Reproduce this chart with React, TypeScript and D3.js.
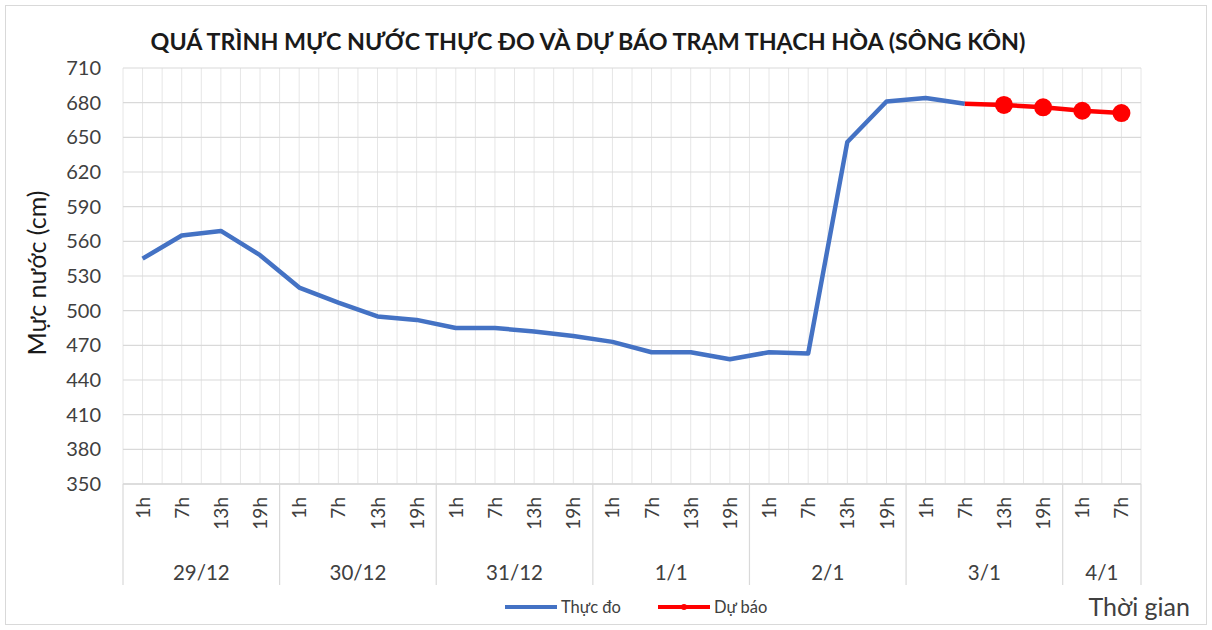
import { useEffect, useRef } from "react";
import * as d3 from "d3";

// Nhãn ngày (cấp 2) và giờ (cấp 1) của trục hoành
const NGAY = ["29/12", "30/12", "31/12", "1/1", "2/1", "3/1", "4/1"];
const GIO_THEO_NGAY = [
  ["1h", "7h", "13h", "19h"],
  ["1h", "7h", "13h", "19h"],
  ["1h", "7h", "13h", "19h"],
  ["1h", "7h", "13h", "19h"],
  ["1h", "7h", "13h", "19h"],
  ["1h", "7h", "13h", "19h"],
  ["1h", "7h"],
];

// Mực nước thực đo (cm), từ 1h 29/12 đến 7h 3/1
const THUC_DO = [
  545, 565, 569, 548,
  520, 507, 495, 492,
  485, 485, 482, 478,
  473, 464, 464, 458,
  464, 463, 646, 681,
  684, 679,
];

// Mực nước dự báo (cm), từ 7h 3/1 đến 7h 4/1
const DU_BAO = [679, 678, 676, 673, 671];
const DU_BAO_BAT_DAU = 21;

const Y_TICKS = [350, 380, 410, 440, 470, 500, 530, 560, 590, 620, 650, 680, 710];

const MAU_THUC_DO = "#4472c4";
const MAU_DU_BAO = "#ff0000";
const FONT = "Lato, Carlito, sans-serif";

const App = () => {
  const svgRef = useRef<SVGSVGElement>(null);
  const width = 1212;
  const height = 630;

  useEffect(() => {
    if (!svgRef.current) return;
    const svg = d3.select(svgRef.current);
    svg.selectAll("*").remove();

    const margin = { top: 68, left: 123, right: 71, bottom: 146 };
    const innerWidth = width - margin.left - margin.right;
    const innerHeight = height - margin.top - margin.bottom;

    // Danh sách category phẳng
    const categorias: { key: string; gio: string; ngay: number }[] = [];
    GIO_THEO_NGAY.forEach((gios, i) =>
      gios.forEach((g) => categorias.push({ key: `${i}-${g}`, gio: g, ngay: i }))
    );

    // Nền và viền ngoài
    svg.append("rect")
      .attr("x", 5.5).attr("y", 5.5)
      .attr("width", width - 11).attr("height", height - 11)
      .attr("fill", "white")
      .attr("stroke", "#d9d9d9");

    const g = svg.append("g").attr("transform", `translate(${margin.left},${margin.top})`);

    const xScale = d3.scaleBand()
      .domain(categorias.map((c) => c.key))
      .range([0, innerWidth])
      .padding(0);
    const bw = xScale.bandwidth();
    const cx = (i: number) => (xScale(categorias[i].key) ?? 0) + bw / 2;

    const yScale = d3.scaleLinear().domain([350, 710]).range([innerHeight, 0]);

    // Lưới dọc: ở biên và tâm mỗi category
    const luoiDoc = d3.range(0, categorias.length * 2 + 1).map((k) => (k * bw) / 2);
    g.append("g")
      .selectAll("line")
      .data(luoiDoc)
      .enter()
      .append("line")
      .attr("x1", (d) => d).attr("x2", (d) => d)
      .attr("y1", 0).attr("y2", innerHeight)
      .attr("stroke", "#e6e6e6")
      .attr("stroke-width", 1);

    // Lưới ngang
    g.append("g")
      .selectAll("line")
      .data(Y_TICKS)
      .enter()
      .append("line")
      .attr("x1", 0).attr("x2", innerWidth)
      .attr("y1", (d) => yScale(d)).attr("y2", (d) => yScale(d))
      .attr("stroke", "#d9d9d9")
      .attr("stroke-width", 1.2);

    // Nhãn trục tung
    g.append("g")
      .selectAll("text")
      .data(Y_TICKS)
      .enter()
      .append("text")
      .attr("x", -22)
      .attr("y", (d) => yScale(d))
      .attr("dy", "0.35em")
      .attr("text-anchor", "end")
      .style("font-family", FONT)
      .style("font-size", "20px")
      .attr("fill", "#404040")
      .text((d) => d);

    // Trục hoành nhiều cấp
    const axisY = innerHeight;
    const groupBottom = innerHeight + 101;
    let idx = 0;
    const biens: number[] = [0];
    GIO_THEO_NGAY.forEach((gios, i) => {
      const x0 = xScale(categorias[idx].key) ?? 0;
      const x1 = x0 + gios.length * bw;
      biens.push(x1);
      g.append("text")
        .attr("x", (x0 + x1) / 2)
        .attr("y", innerHeight + 96)
        .attr("text-anchor", "middle")
        .style("font-family", FONT)
        .style("font-size", "20.5px")
        .attr("fill", "#404040")
        .text(NGAY[i]);
      idx += gios.length;
    });

    g.append("g")
      .selectAll("line")
      .data(biens)
      .enter()
      .append("line")
      .attr("x1", (d) => d).attr("x2", (d) => d)
      .attr("y1", axisY).attr("y2", groupBottom)
      .attr("stroke", "#d9d9d9")
      .attr("stroke-width", 1.2);

    g.append("line")
      .attr("x1", 0).attr("x2", innerWidth)
      .attr("y1", axisY).attr("y2", axisY)
      .attr("stroke", "#d9d9d9")
      .attr("stroke-width", 1.5);

    g.append("g")
      .selectAll("text")
      .data(categorias)
      .enter()
      .append("text")
      .attr("transform", (_, i) => `translate(${cx(i) + 7},${axisY + 13}) rotate(-90)`)
      .attr("text-anchor", "end")
      .style("font-family", FONT)
      .style("font-size", "19px")
      .attr("fill", "#404040")
      .text((d) => d.gio);

    // Đường thực đo
    const line = d3.line<number>()
      .x((_, i) => cx(i))
      .y((d) => yScale(d));

    g.append("path")
      .datum(THUC_DO)
      .attr("fill", "none")
      .attr("stroke", MAU_THUC_DO)
      .attr("stroke-width", 4.5)
      .attr("stroke-linejoin", "round")
      .attr("d", line);

    // Đường dự báo
    const lineDB = d3.line<number>()
      .x((_, i) => cx(i + DU_BAO_BAT_DAU))
      .y((d) => yScale(d));

    g.append("path")
      .datum(DU_BAO)
      .attr("fill", "none")
      .attr("stroke", MAU_DU_BAO)
      .attr("stroke-width", 4.5)
      .attr("d", lineDB);

    g.append("g")
      .selectAll("circle")
      .data(DU_BAO.slice(1))
      .enter()
      .append("circle")
      .attr("cx", (_, i) => cx(i + 1 + DU_BAO_BAT_DAU))
      .attr("cy", (d) => yScale(d))
      .attr("r", 9)
      .attr("fill", MAU_DU_BAO);

    // Tiêu đề
    svg.append("text")
      .attr("x", 588)
      .attr("y", 50)
      .attr("text-anchor", "middle")
      .style("font-family", FONT)
      .style("font-size", "23.3px")
      .style("font-weight", "700")
      .attr("fill", "#1a1a1a")
      .text("QUÁ TRÌNH MỰC NƯỚC THỰC ĐO VÀ DỰ BÁO TRẠM THẠCH HÒA (SÔNG KÔN)");

    // Nhãn trục tung
    svg.append("text")
      .attr("transform", `translate(46,${margin.top + innerHeight / 2 - 3}) rotate(-90)`)
      .attr("text-anchor", "middle")
      .style("font-family", FONT)
      .style("font-size", "25px")
      .attr("fill", "#1a1a1a")
      .text("Mực nước (cm)");

    // Nhãn trục hoành
    svg.append("text")
      .attr("x", 1190)
      .attr("y", 616)
      .attr("text-anchor", "end")
      .style("font-family", FONT)
      .style("font-size", "25px")
      .attr("fill", "#404040")
      .text("Thời gian");

    // Chú giải
    const legenda = svg.append("g").attr("transform", "translate(505,607)");
    const items = [
      { nome: "Thực đo", cor: MAU_THUC_DO, x: 0, marker: false },
      { nome: "Dự báo", cor: MAU_DU_BAO, x: 153, marker: true },
    ];
    items.forEach((it) => {
      legenda.append("line")
        .attr("x1", it.x).attr("x2", it.x + 52)
        .attr("y1", 0).attr("y2", 0)
        .attr("stroke", it.cor)
        .attr("stroke-width", 4);
      if (it.marker) {
        legenda.append("circle")
          .attr("cx", it.x + 26).attr("cy", 0).attr("r", 3)
          .attr("fill", it.cor);
      }
      legenda.append("text")
        .attr("x", it.x + 56)
        .attr("y", 5.5)
        .style("font-family", FONT)
        .style("font-size", "16.5px")
        .attr("fill", "#404040")
        .text(it.nome);
    });
  }, []);

  return (
    <svg
      ref={svgRef}
      width={width}
      height={height}
      style={{ position: "absolute", left: 0, top: 0 }}
    />
  );
};

export default App;
